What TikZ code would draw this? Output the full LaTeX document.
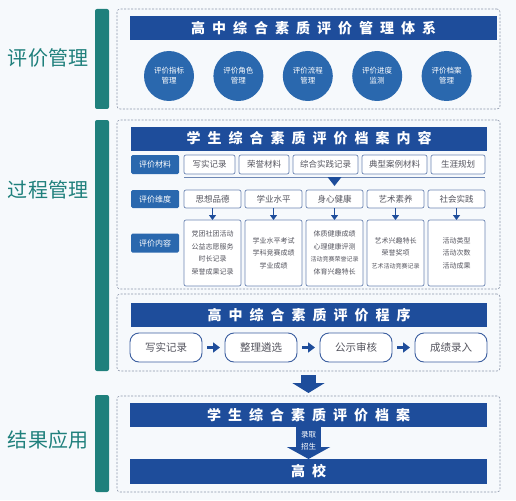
\documentclass[tikz,border=0pt]{standalone}
\usepackage{fontspec}
\setmainfont{Noto Sans CJK SC}
\usetikzlibrary{arrows.meta,positioning,calc}
\definecolor{pagebg}{RGB}{246,249,252}
\definecolor{tealbar}{RGB}{31,128,124}
\definecolor{navy}{RGB}{30,77,155}
\definecolor{midblue}{RGB}{42,104,174}
\definecolor{itemedge}{RGB}{110,135,180}
\definecolor{itemtext}{RGB}{85,85,95}
\definecolor{procedge}{RGB}{60,95,160}
\definecolor{dashgray}{RGB}{140,150,170}

\begin{document}
\begin{tikzpicture}[
    x=1pt, y=-1pt,
    frame/.style={rectangle, draw=dashgray, dash pattern=on 2pt off 1.5pt, rounded corners=3pt,
                  line width=0.6pt, inner sep=0pt, outer sep=0pt},
    sidebar/.style={rectangle, fill=tealbar, rounded corners=2pt, minimum width=14pt, inner sep=0pt},
    sidelabel/.style={text=tealbar, font=\fontsize{20}{22}\selectfont},
    header/.style={rectangle, fill=navy, text=white, inner sep=0pt, outer sep=0pt,
                   minimum width=357pt, minimum height=24pt,
                   font={\bfseries\fontsize{14}{16}\selectfont\spaceskip=0.5em}},
    circ/.style={circle, fill=midblue, text=white, minimum size=50pt, inner sep=0pt,
                 align=center, font=\fontsize{7.5}{10}\selectfont},
    tag/.style={rectangle, fill=midblue, text=white, rounded corners=1.5pt, minimum width=48pt,
                minimum height=19pt, inner sep=0pt, outer sep=0pt, font=\fontsize{8}{9}\selectfont},
    item/.style={rectangle, draw=itemedge, fill=white, rounded corners=2pt, line width=0.7pt,
                 minimum height=19pt, inner sep=0pt, outer sep=0pt, text=itemtext,
                 font=\fontsize{8.5}{10}\selectfont},
    dimbox/.style={item, minimum width=57pt, minimum height=18pt},
    contentbox/.style={item, minimum width=57pt, minimum height=66pt, align=center,
                       font=\fontsize{7}{12.5}\selectfont},
    procbox/.style={rectangle, draw=procedge, fill=white, rounded corners=9pt, line width=0.9pt,
                    minimum width=72pt, minimum height=29pt, inner sep=0pt, outer sep=0pt,
                    text=itemtext, font=\fontsize{10.5}{12}\selectfont},
    downarr/.style={navy, line width=1.6pt, -{Triangle[width=7pt,length=5pt]}},
    procarr/.style={navy, line width=2.8pt, -{Triangle[width=10pt,length=7pt]},
                    shorten <=5pt, shorten >=5pt},
    bigarr/.style={navy, line width=15pt, -{Triangle[width=32pt,length=10pt]}}
]

\fill[pagebg] (0,0) rectangle (516,500);
\useasboundingbox (0,0) rectangle (516,500);

% left side
\node[sidebar, minimum height=100pt] (bar1) at (102,59) {};
\node[sidebar, minimum height=251pt] (bar2) at (102,245.5) {};
\node[sidebar, minimum height=97pt] (bar3) at (102,443.5) {};
\node[sidelabel] (lab1) at (48,58) {评价管理};
\node[sidelabel] (lab2) at (48,190) {过程管理};
\node[sidelabel] (lab3) at (48,440) {结果应用};

% frames
\node[frame, minimum width=383pt, minimum height=100pt] (mgmt) at (308.5,59) {};
\node[frame, minimum width=383pt, minimum height=169pt] (content) at (308.5,204.5) {};
\node[frame, minimum width=383pt, minimum height=77pt] (proc) at (308.5,332.5) {};
\node[frame, minimum width=383pt, minimum height=96pt] (result) at (308.5,444) {};

% evaluation management
\node[header, minimum width=367pt] (sysbar) at (313.5,28) {高 中 综 合 素 质 评 价 管 理 体 系};
\node[circ] (c1) at (169,76) {评价指标\\管理};
\node[circ, right=19pt of c1] (c2) {评价角色\\管理};
\node[circ, right=19pt of c2] (c3) {评价流程\\管理};
\node[circ, right=19pt of c3] (c4) {评价进度\\监测};
\node[circ, right=19pt of c4] (c5) {评价档案\\管理};

% archive content
\node[header, minimum width=356pt] (contentbar) at (309,138.5) {学 生 综 合 素 质 评 价 档 案 内 容};

\node[tag] (tag1) at (155,164.5) {评价材料};
\node[item, anchor=west, minimum width=51pt] (m1) at (184,164.5) {写实记录};
\node[item, right=4pt of m1, minimum width=50pt] (m2) {荣誉材料};
\node[item, right=4pt of m2, minimum width=65pt] (m3) {综合实践记录};
\node[item, right=4pt of m3, minimum width=65pt] (m4) {典型案例材料};
\node[item, right=4pt of m4, minimum width=54pt] (m5) {生涯规划};

\draw[itemedge, line width=0.8pt] ([yshift=-3pt]m1.south west) -- ([yshift=-3pt]m5.south east);
\coordinate (tri) at ($(m1.south west)!0.5!(m5.south east)+(0,3)$);
\fill[navy] (tri) ++(-7,0) -- ++(14,0) -- ++(-7,9) -- cycle;

\node[tag, minimum height=18pt] (tag2) at (155,199) {评价维度};
\node[dimbox, anchor=west] (d1) at (184,199) {思想品德};
\node[dimbox, right=4pt of d1] (d2) {学业水平};
\node[dimbox, right=4pt of d2] (d3) {身心健康};
\node[dimbox, right=4pt of d3] (d4) {艺术素养};
\node[dimbox, right=4pt of d4] (d5) {社会实践};

\node[tag] (tag3) at (155,243) {评价内容};
\node[contentbox, below=12pt of d1] (e1) {党团社团活动\\公益志愿服务\\时长记录\\荣誉成果记录};
\node[contentbox, below=12pt of d2] (e2) {学业水平考试\\学科竞赛成绩\\学业成绩};
\node[contentbox, below=12pt of d3] (e3) {体质健康成绩\\心理健康评测\\{\fontsize{6}{12.5}\selectfont 活动竞赛荣誉记录}\\体育兴趣特长};
\node[contentbox, below=12pt of d4] (e4) {艺术兴趣特长\\荣誉奖项\\{\fontsize{6}{12.5}\selectfont 艺术活动竞赛记录}};
\node[contentbox, below=12pt of d5] (e5) {活动类型\\活动次数\\活动成果};

\draw[downarr] (d1) -- (e1);
\draw[downarr] (d2) -- (e2);
\draw[downarr] (d3) -- (e3);
\draw[downarr] (d4) -- (e4);
\draw[downarr] (d5) -- (e5);

% procedure
\node[header, minimum width=356pt] (procbar) at (309,315) {高 中 综 合 素 质 评 价 程 序};
\node[procbox, anchor=west] (p1) at (130,347.5) {写实记录};
\node[procbox, right=23pt of p1] (p2) {整理遴选};
\node[procbox, right=23pt of p2] (p3) {公示审核};
\node[procbox, right=23pt of p3] (p4) {成绩录入};

\draw[procarr] (p1) -- (p2);
\draw[procarr] (p2) -- (p3);
\draw[procarr] (p3) -- (p4);

\draw[bigarr, shorten <=4pt, shorten >=3pt] (proc.south) -- (result.north);

% result
\node[header] (filebar) at (308.5,415) {学 生 综 合 素 质 评 价 档 案};
\node[header, minimum height=25pt] (college) at (308.5,471.5) {高 校};
\draw[navy, line width=25pt, -{Triangle[width=43pt,length=12pt]}] (filebar.south) -- (college.north);
\node[text=white, align=center, font=\fontsize{7.5}{12}\selectfont] (admit) at (308.5,441) {录取\\招生};

\end{tikzpicture}
\end{document}
